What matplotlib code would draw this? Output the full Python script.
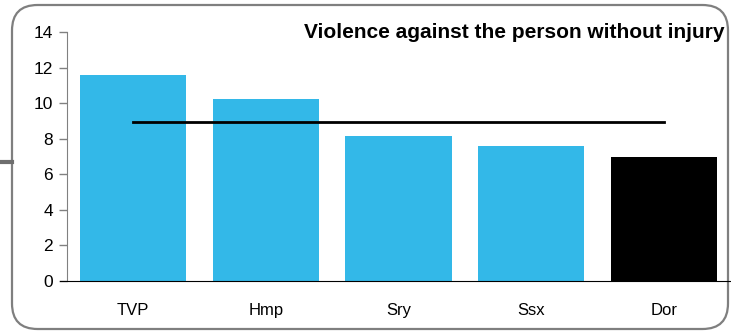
import matplotlib.pyplot as plt
from matplotlib.patches import FancyBboxPatch

plt.rcParams['font.family'] = ['Liberation Sans', 'DejaVu Sans']

areas = ["TVP", "Hmp", "Sry", "Ssx", "Dor"]
rates = [11.6, 10.25, 8.15, 7.6, 7.0]
average = [8.95, 8.95, 8.95, 8.95, 8.95]
bar_colors = ["#33b8e8", "#33b8e8", "#33b8e8", "#33b8e8", "#000000"]
y_ticks = [0, 2, 4, 6, 8, 10, 12, 14]

fig = plt.figure(figsize=(7.31, 3.34), dpi=100)

# marco redondeado, detras de todo
caja = FancyBboxPatch((12 / 731, 5 / 334), 716 / 731, 324 / 334,
                      boxstyle="round,pad=0,rounding_size=0.035",
                      transform=fig.transFigure, facecolor="white",
                      edgecolor="#7f7f7f", linewidth=1.6, mutation_aspect=731 / 334,
                      zorder=-5)
fig.patches.append(caja)
# la rayita gris de la izquierda
fig.add_artist(plt.Line2D([0, 12 / 731], [1 - 162 / 334, 1 - 162 / 334],
                          transform=fig.transFigure, color="#6e6e6e", linewidth=3))

ax = fig.add_axes([67 / 731, 1 - 281 / 334, 663 / 731, 249 / 334])
ax.set_zorder(2)
ax.patch.set_alpha(0)
x = range(len(areas))
ax.bar(x, rates, width=0.8, color=bar_colors, zorder=2)
ax.plot(x, average, color="black", linewidth=2, zorder=3)

ax.set_xlim(-0.5, 4.5)
ax.set_ylim(0, 14)
ax.set_yticks(y_ticks)
ax.set_xticks(list(x))
ax.set_xticklabels(areas)
ax.tick_params(axis="x", length=0, pad=16, labelsize=12)
ax.tick_params(axis="y", length=6, width=1, color="#808080", labelsize=12.5, pad=4)
for s in ["top", "right"]:
    ax.spines[s].set_visible(False)
ax.spines["left"].set_color("#808080")
ax.spines["bottom"].set_color("black")
ax.spines["bottom"].set_bounds(-0.55, 4.5)

fig.text(725 / 731, 1 - 33 / 334, "Violence against the person without injury",
         ha="right", va="center", fontsize=15, fontweight="bold")

plt.savefig("out.png", dpi=100)
